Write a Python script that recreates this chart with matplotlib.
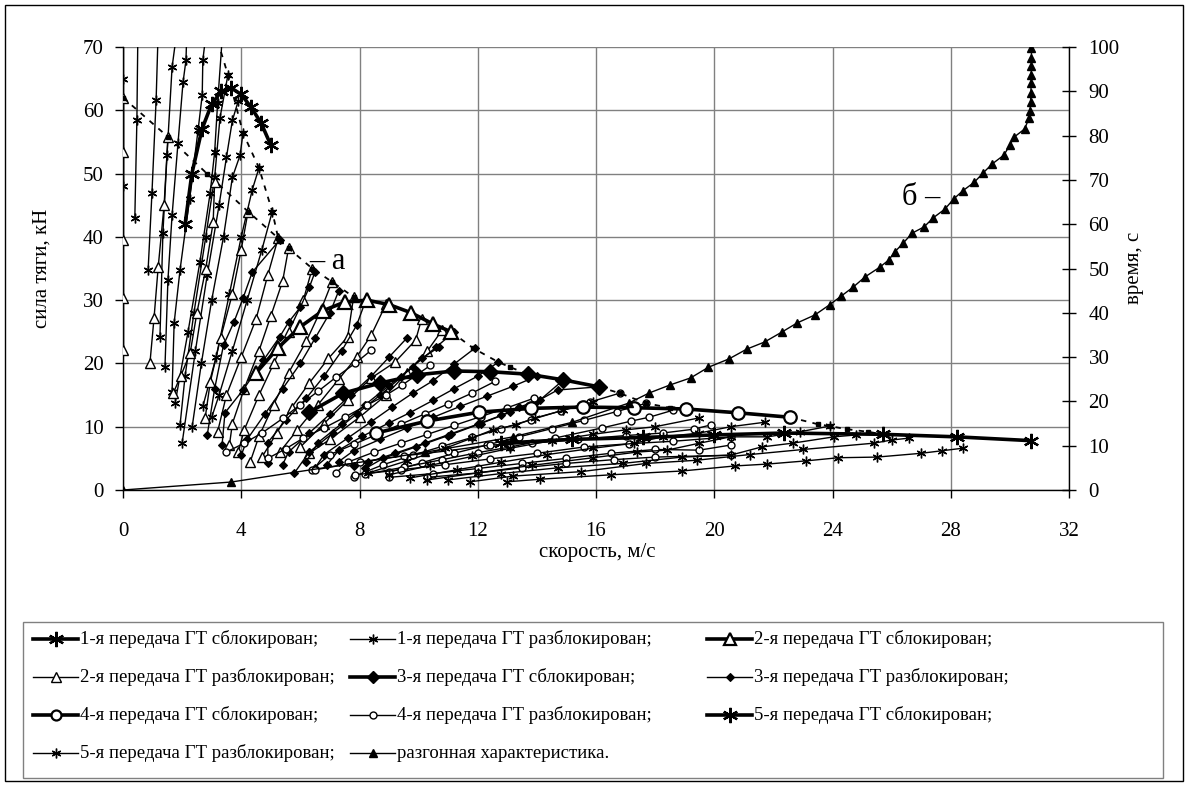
import matplotlib
matplotlib.use('Agg')
import matplotlib.pyplot as plt
from matplotlib.lines import Line2D
from matplotlib.patches import Rectangle

plt.rcParams['font.family'] = ['Liberation Serif', 'DejaVu Serif']

# ---------------- data ----------------
X_TICKS = [0, 4, 8, 12, 16, 20, 24, 28, 32]
YL_TICKS = [0, 10, 20, 30, 40, 50, 60, 70]
YR_TICKS = [0, 10, 20, 30, 40, 50, 60, 70, 80, 90, 100]

LEGEND_LABELS = [
    '1-я передача ГТ сблокирован;', '1-я передача ГТ разблокирован;', '2-я передача ГТ сблокирован;',
    '2-я передача ГТ разблокирован;', '3-я передача ГТ сблокирован;', '3-я передача ГТ разблокирован;',
    '4-я передача ГТ сблокирован;', '4-я передача ГТ разблокирован;', '5-я передача ГТ сблокирован;',
    '5-я передача ГТ разблокирован;', 'разгонная характеристика.'
]

# locked torque converter (thick lines)
G1_LOCK_V = [2.1, 2.33, 2.67, 3.0, 3.33, 3.67, 4.0, 4.33, 4.67, 5.0]
G1_LOCK_F = [42, 50, 57, 61, 63, 63.5, 62.5, 60.5, 58.0, 54.5]
G2_LOCK_V = [4.5, 5.25, 6.0, 6.75, 7.5, 8.25, 9.0, 9.75, 10.5, 11.1]
G2_LOCK_F = [18.5, 22.5, 25.8, 28.3, 29.7, 30.0, 29.3, 28.0, 26.2, 25.0]
G3_LOCK_V = [6.3, 7.45, 8.7, 9.95, 11.2, 12.4, 13.7, 14.9, 16.1]
G3_LOCK_F = [12.3, 15.3, 16.9, 18.2, 18.8, 18.7, 18.3, 17.4, 16.3]
G4_LOCK_V = [8.55, 10.3, 12.05, 13.8, 15.55, 17.3, 19.05, 20.8, 22.55]
G4_LOCK_F = [9.0, 10.9, 12.3, 12.9, 13.1, 13.0, 12.8, 12.2, 11.5]
G5_LOCK_V = [12.8, 15.2, 17.6, 20.0, 22.35, 25.7, 28.2, 30.7]
G5_LOCK_F = [7.4, 8.0, 8.3, 8.7, 9.0, 8.8, 8.4, 7.8]

# unlocked torque converter (thin lines), one list per curve
G1U_V = [[0, 0, 0], [0.5, 0.47, 0.40], [1.18, 1.12, 0.98, 0.85],
         [1.78, 1.66, 1.49, 1.35, 1.25],
         [2.15, 2.13, 2.03, 1.86, 1.66, 1.52, 1.42],
         [2.78, 2.70, 2.68, 2.54, 2.25, 1.93, 1.73, 1.66],
         [3.35, 3.20, 3.10, 2.95, 2.60, 2.20, 1.76],
         [3.55, 3.28, 3.10, 2.80, 2.40, 2.10, 1.93],
         [3.90, 3.70, 3.50, 3.25, 2.85, 2.45, 2.00],
         [4.06, 3.96, 3.70, 3.40, 3.00, 2.65, 2.34],
         [4.60, 4.37, 4.00, 3.60, 3.15, 2.70],
         [5.05, 4.70, 4.20, 3.70, 3.25, 3.00]]
G1U_F = [[71, 65, 48], [71, 58.5, 43], [71, 61.6, 47, 34.8],
         [71, 66.8, 53, 40.6, 24.2],
         [71, 67.9, 64.4, 54.8, 43.4, 33.2, 19.5],
         [71, 67.9, 62.4, 56.9, 46, 34.8, 26.4, 15.5],
         [71, 61.1, 53.4, 47.0, 36, 25, 13.7],
         [65.6, 58.8, 49.4, 40, 28, 18, 10.3],
         [61.5, 58.4, 52.6, 45, 34, 22, 7.4],
         [56.4, 52.9, 49.4, 40, 30, 20, 10],
         [50.9, 47.4, 40, 31, 21, 13.2],
         [44, 38, 30, 22, 15, 11.5]]

G2U_V = [[0, 0, 0, 0, 0], [1.52, 1.39, 1.19, 1.05, 0.91],
         [3.1, 3.05, 2.8, 2.5, 2.27, 1.95, 1.7],
         [4.23, 4.0, 3.7, 3.3, 2.95, 2.78],
         [5.25, 4.9, 4.5, 4.0, 3.5, 3.2],
         [5.6, 5.4, 5.0, 4.6, 4.1, 3.7, 3.6],
         [6.4, 6.1, 5.6, 5.1, 4.6, 4.1, 3.9],
         [7.07, 6.7, 6.2, 5.6, 5.1, 4.6, 4.3],
         [7.8, 7.6, 6.95, 6.3, 5.7, 5.2, 4.7],
         [8.9, 8.4, 7.9, 7.3, 6.6, 5.9, 5.3],
         [10.1, 9.9, 9.2, 8.4, 7.6, 6.8, 6.0],
         [10.8, 10.3, 9.6, 8.9, 8.0, 7.0, 6.3]]
G2U_F = [[62, 53.4, 39.5, 30.3, 22.1], [55.8, 45, 35.2, 27.2, 20.0],
         [48.7, 42.3, 35, 28, 21.6, 18, 15.3],
         [44, 38, 31, 24, 17, 11.4],
         [39.8, 34, 27, 21, 15, 9.2],
         [38.2, 33, 27.5, 22, 16, 10.5, 7.1],
         [35, 30, 25, 20, 15, 9.5, 6.0],
         [32.9, 28.5, 23.5, 18.5, 13.5, 8.5, 4.4],
         [30.5, 24.2, 20.8, 16.9, 13, 9, 5.2],
         [29.4, 24.5, 21, 17.5, 13.5, 9.5, 6.0],
         [27.0, 23.7, 20.2, 17.7, 14.2, 10.5, 6.8],
         [25.3, 22, 18.5, 15, 11.5, 8, 5.8]]

G3U_V = [[5.3, 4.37, 4.06, 3.75, 3.4, 3.1, 2.85],
         [6.5, 6.3, 6.0, 5.6, 5.3, 4.75, 4.06, 3.45, 3.35],
         [7.3, 7.0, 6.5, 6.0, 5.4, 4.8, 4.2, 4.0],
         [8.2, 7.9, 7.4, 6.8, 6.2, 5.5, 4.9, 4.9],
         [9.6, 9.0, 8.4, 7.7, 7.0, 6.3, 5.6, 5.4],
         [10.7, 10.1, 9.4, 8.7, 7.9, 7.1, 6.3, 5.8],
         [11.2, 10.6, 9.8, 9.0, 8.2, 7.4, 6.6, 6.2],
         [11.9, 11.2, 10.5, 9.8, 9.1, 8.4, 7.6, 6.8, 6.5],
         [12.7, 12.0, 11.2, 10.5, 9.7, 9.0, 8.1, 7.3, 6.9],
         [14.0, 13.2, 12.3, 11.4, 10.5, 9.6, 8.7, 7.8, 7.3],
         [14.9, 14.1, 13.4, 12.8, 12.0, 11.1, 10.2, 9.2, 8.3, 7.8],
         [16.1, 14.7, 14.0, 13.1, 12.1, 11.0, 9.9, 8.8, 8.2]]
G3U_F = [[39.5, 34.4, 30.3, 26.5, 22.9, 16, 8.7],
         [34.5, 32, 28.9, 26.5, 24.2, 20.5, 15.8, 12.2, 7.1],
         [31.5, 28, 24, 20, 16, 12, 8, 5.5],
         [29.8, 26, 22, 18, 14.5, 11, 7.5, 4.3],
         [24, 21, 18, 15, 12, 9, 6, 4.0],
         [22.6, 20.8, 17.8, 15, 12, 9, 6, 2.7],
         [25, 22.6, 19.5, 16.5, 13.5, 10.5, 7.5, 4.5],
         [22.4, 19.9, 17.3, 15.3, 13.1, 10.8, 8.2, 5.6, 3.5],
         [20.2, 18, 16, 14.2, 12.2, 10.6, 8.5, 6.3, 4.0],
         [18.0, 16.4, 14.8, 13.2, 11.5, 9.8, 8.0, 6.2, 4.5],
         [17.4, 14.2, 13.1, 11.8, 10.4, 8.9, 7.4, 5.8, 4.4, 3.8],
         [16.3, 15.8, 14.0, 12.3, 10.5, 8.6, 6.8, 5.0, 3.4]]

G4U_V = [[8.4, 7.85, 7.2, 6.6, 6.0, 5.4, 4.7, 4.1, 3.5],
         [10.4, 9.45, 8.9, 8.25, 7.5, 6.8, 6.1, 5.5, 4.9],
         [12.6, 11.8, 11.0, 10.2, 9.4, 8.6, 7.8, 7.0, 6.4],
         [13.9, 13.0, 12.1, 11.2, 10.3, 9.4, 8.5, 7.6, 7.2],
         [16.8, 15.8, 14.8, 13.8, 12.8, 11.8, 10.8, 9.8, 8.8, 7.8],
         [17.7, 16.7, 15.6, 14.5, 13.4, 12.3, 11.2, 10.1, 9.0],
         [18.6, 17.8, 17.2, 16.2, 14.6, 13.1, 12.0, 10.8, 9.5, 8.2],
         [19.9, 19.3, 18.25, 17.0, 15.4, 13.85, 12.4, 11.0, 9.5, 8.0, 6.5],
         [20.55, 18.6, 17.1, 15.6, 14.0, 12.4, 10.9, 9.4, 7.85],
         [20.55, 19.5, 18.0, 16.5, 15.0, 13.5, 12.0, 10.5, 9.0],
         [20.55, 18.0, 16.6, 15.0, 13.5, 12.0, 10.3]]
G4U_F = [[22.1, 20.0, 17.8, 15.6, 13.5, 11.3, 9.0, 7.4, 6.0],
         [19.7, 16.6, 15.0, 13.4, 11.5, 9.8, 8.2, 6.5, 5.0],
         [17.2, 15.3, 13.6, 12.0, 10.4, 8.8, 7.2, 5.6, 3.2],
         [14.5, 13.0, 11.6, 10.2, 8.8, 7.4, 6.0, 4.4, 2.7],
         [15.3, 13.9, 12.5, 11.1, 9.7, 8.3, 6.9, 5.5, 4.0, 2.1],
         [13.7, 12.4, 11.0, 9.7, 8.4, 7.1, 5.8, 4.3, 2.8],
         [12.6, 11.5, 10.9, 9.8, 8.2, 6.8, 5.9, 4.8, 3.6, 2.5],
         [10.3, 9.6, 9.0, 8.6, 8.0, 7.4, 7.1, 6.2, 5.4, 4.4, 3.2],
         [8.4, 7.7, 7.3, 6.8, 5.8, 4.9, 4.0, 3.2, 2.4],
         [7.1, 6.3, 6.4, 5.8, 5.0, 4.2, 3.4, 2.6, 2.0],
         [5.5, 5.2, 4.8, 4.2, 3.5, 2.7, 2.0]]

G5U_V = [[8.3, 9.6, 10.9, 11.8, 12.5, 13.3, 13.95, 14.9, 15.9],
         [9.0, 10.4, 11.8, 13.1, 14.5, 15.9, 17.0, 18.0, 19.5],
         [9.7, 11.3, 12.8, 14.35, 15.9, 17.3, 18.25, 19.5, 20.55, 21.7],
         [10.3, 12.0, 13.85, 15.9, 17.4, 18.4, 19.5, 20.55, 21.8, 22.9, 23.9],
         [11.0, 12.8, 14.7, 16.9, 18.9, 20.55, 21.6, 22.65, 24.05, 24.8],
         [11.75, 13.2, 15.5, 17.7, 19.4, 21.2, 23.0, 25.4, 26.0, 26.6],
         [13.0, 14.1, 16.5, 18.9, 20.7, 21.8, 23.1, 24.2, 25.5, 27.0, 27.7, 28.4]]
G5U_F = [[2.7, 4.6, 6.6, 8.2, 9.5, 10.3, 11.4, 12.6, 13.9],
         [2.4, 3.9, 5.3, 6.6, 7.8, 8.8, 9.5, 10.0, 11.4],
         [1.9, 3.2, 4.4, 5.6, 6.6, 7.4, 8.4, 9.0, 10.0, 10.7],
         [1.6, 2.7, 3.9, 5.1, 6.0, 6.3, 7.4, 8.4, 8.4, 9.2, 10.1],
         [1.6, 2.6, 3.5, 4.2, 5.2, 5.5, 6.8, 7.4, 8.4, 8.7],
         [1.3, 2.2, 2.9, 4.2, 4.7, 5.6, 6.4, 7.4, 7.9, 8.2],
         [1.3, 1.7, 2.4, 3.0, 3.8, 4.1, 4.6, 5.1, 5.2, 5.8, 6.2, 6.6]]

# dashed envelopes
ENV_V = [[3.2, 3.55, 4.06, 4.6, 5.05, 5.25],
         [0, 1.52, 2.84, 4.23, 5.25, 5.6, 6.4, 7.07, 7.8],
         [11.1, 11.85, 12.7, 13.1, 13.7],
         [16.1, 16.8, 17.7, 18.5],
         [22.55, 23.5, 23.9, 24.5, 25.2, 25.7]]
ENV_F = [[71, 65.6, 56.4, 50.9, 44.0, 39.8],
         [62, 55.8, 50.0, 44.0, 39.8, 38.2, 35.0, 32.9, 30.5],
         [25.0, 22.4, 20.2, 19.4, 18.3],
         [16.3, 15.3, 13.7, 13.0],
         [11.5, 10.4, 10.1, 9.6, 9.2, 8.8]]

# acceleration characteristic (right axis, time in s)
ACC_V = [0, 3.66, 10.2, 13.2, 15.2, 17.1, 17.8, 18.5, 19.2, 19.8, 20.5, 21.1, 21.7,
         22.3, 22.8, 23.4, 23.9, 24.3, 24.7, 25.1, 25.6, 25.9, 26.1, 26.4, 26.7, 27.1,
         27.4, 27.8, 28.1, 28.4, 28.8, 29.1, 29.4, 29.8, 30.0, 30.15, 30.5, 30.65,
         30.68, 30.7, 30.71, 30.72, 30.72, 30.73, 30.73, 30.73]
ACC_T = [0, 1.8, 8.5, 12.0, 15.3, 19.6, 21.9, 23.7, 25.3, 27.7, 29.6, 31.8, 33.4,
         35.7, 37.7, 39.5, 41.8, 43.8, 45.8, 48.1, 50.3, 51.9, 53.7, 55.8, 58.0, 59.4,
         61.4, 63.4, 65.7, 67.5, 69.5, 71.6, 73.6, 75.6, 77.9, 79.7, 81.5, 84.0,
         85.5, 87.6, 89.6, 91.8, 93.7, 95.6, 97.6, 99.8]

# ---------------- figure ----------------
W, H = 1189, 785
fig = plt.figure(figsize=(W / 100, H / 100), dpi=100)


def fx(px):
    return px / W


def fy(py):
    return 1 - py / H


ax = fig.add_axes([fx(123), fy(490), fx(1069) - fx(123), fy(47) - fy(490)])
ax.set_xlim(0, 32)
ax.set_ylim(0, 70)
ax.set_xticks(X_TICKS)
ax.set_yticks(YL_TICKS)
ax.grid(True, color='#808080', lw=1.0)
ax.set_axisbelow(True)
for s in ['top', 'right']:
    ax.spines[s].set_visible(False)
for s in ['left', 'bottom']:
    ax.spines[s].set_color('k')
    ax.spines[s].set_linewidth(1.0)
ax.tick_params(axis='x', direction='out', length=6, width=1, labelsize=15, pad=17)
ax.tick_params(axis='y', direction='out', length=6, width=1, labelsize=15, pad=8)

ASTER = (6, 2, 0)
THIN = 1.0
THICK = 2.6

styles = {
    1: dict(marker=ASTER, ms=7, mfc='k', mew=1.0),
    2: dict(marker='^', ms=6.5, mfc='white', mew=1.0),
    3: dict(marker='D', ms=4.5, mfc='k', mew=0.8),
    4: dict(marker='o', ms=5, mfc='white', mew=1.0),
    5: dict(marker=ASTER, ms=7, mfc='k', mew=1.0),
}
styles_lock = {
    1: dict(marker=ASTER, ms=11, mfc='k', mew=1.6),
    2: dict(marker='^', ms=10, mfc='white', mew=1.6),
    3: dict(marker='D', ms=8, mfc='k', mew=1.0),
    4: dict(marker='o', ms=9, mfc='white', mew=1.6),
    5: dict(marker=ASTER, ms=11, mfc='k', mew=1.6),
}

unlocked = {1: (G1U_V, G1U_F), 2: (G2U_V, G2U_F), 3: (G3U_V, G3U_F),
            4: (G4U_V, G4U_F), 5: (G5U_V, G5U_F)}
locked = {1: (G1_LOCK_V, G1_LOCK_F), 2: (G2_LOCK_V, G2_LOCK_F), 3: (G3_LOCK_V, G3_LOCK_F),
          4: (G4_LOCK_V, G4_LOCK_F), 5: (G5_LOCK_V, G5_LOCK_F)}

for g in [1, 2, 3, 4, 5]:
    vs, fs = unlocked[g]
    for v, f in zip(vs, fs):
        ax.plot(v, f, color='k', lw=THIN, mec='k', zorder=3, **styles[g])

for v, f in zip(ENV_V, ENV_F):
    ax.plot(v, f, color='k', lw=1.3, ls=(0, (3, 3.5)), marker='s', ms=3, mfc='k', mec='k', zorder=3)

for g in [1, 2, 3, 4, 5]:
    v, f = locked[g]
    ax.plot(v, f, color='k', lw=THICK, mec='k', zorder=4, **styles_lock[g])

# annotations
ax.text(6.3, 34.9, '– а', fontsize=22, ha='left', va='baseline', zorder=6)
ax.text(26.35, 45.0, 'б –', fontsize=22, ha='left', va='baseline', zorder=6)

ax2 = ax.twinx()
ax2.set_ylim(0, 100)
ax2.set_yticks(YR_TICKS)
for s in ['top', 'left', 'bottom']:
    ax2.spines[s].set_visible(False)
ax2.spines['right'].set_color('k')
ax2.spines['right'].set_linewidth(1.0)
ax2.tick_params(axis='y', direction='inout', length=10, width=1, labelsize=15, pad=9)
ax2.plot(ACC_V, ACC_T, color='k', lw=THIN, marker='^', ms=6, mfc='k', mec='k', zorder=5)

# axis titles
fig.text(fx(42), fy(268), 'сила тяги, кН', rotation=90, ha='center', va='center', fontsize=15)
fig.text(fx(1134), fy(268), 'время, с', rotation=90, ha='center', va='center', fontsize=15)
fig.text(fx(597), fy(552), 'скорость, м/с', ha='center', va='center', fontsize=15)

# outer frame
fig.add_artist(Rectangle((fx(5), fy(781)), fx(1183) - fx(5), fy(5) - fy(781),
                         transform=fig.transFigure, fill=False, ec='k', lw=1.0))
# legend box
fig.add_artist(Rectangle((fx(23), fy(778)), fx(1163) - fx(23), fy(622) - fy(778),
                         transform=fig.transFigure, fill=False, ec='#808080', lw=1.0))

leg_styles = []
for g in [1, 2, 3, 4, 5]:
    leg_styles.append((THICK, styles_lock[g]))
    leg_styles.append((THIN, styles[g]))
leg_styles.append((THIN, dict(marker='^', ms=6, mfc='k', mew=1.0)))

col_x = [33, 350, 707]
row_y = [639, 677, 715, 753]
for i, lab in enumerate(LEGEND_LABELS):
    r, c = divmod(i, 3)
    x0 = col_x[c]
    y = row_y[r]
    lw, st = leg_styles[i]
    st = dict(st)
    if st['marker'] in ('^', 'D', 'o') and lw == THICK:
        st['ms'] = st['ms'] * 0.8
    ln = Line2D([fx(x0), fx(x0 + 22.5), fx(x0 + 45)], [fy(y)] * 3, transform=fig.transFigure,
                color='k', lw=lw, mec='k', markevery=[1], **st)
    fig.add_artist(ln)
    fig.text(fx(x0 + 47), fy(y), lab, ha='left', va='center', fontsize=13.5)

fig.savefig('out.png', dpi=100)
